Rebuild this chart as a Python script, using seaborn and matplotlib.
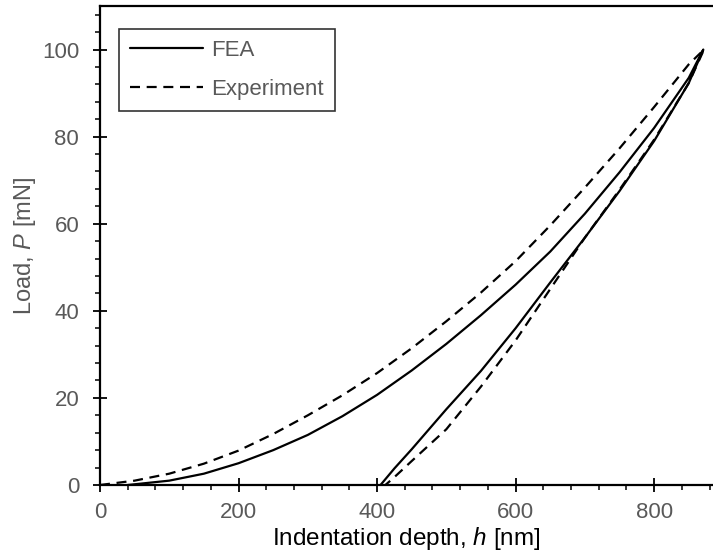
import matplotlib
matplotlib.use("Agg")
import matplotlib.pyplot as plt
import seaborn as sns
import pandas as pd
from matplotlib.ticker import MultipleLocator

# ---- data ----
fea_load_h = [40, 100, 150, 200, 250, 300, 350, 400, 450, 500, 550, 600, 650, 700, 750, 800, 850, 871]
fea_load_p = [0, 1.0, 2.6, 5.0, 8.0, 11.5, 15.8, 20.7, 26.3, 32.4, 39.0, 46.0, 53.6, 62.3, 71.8, 82.0, 93.5, 100]
fea_unload_h = [871, 850, 800, 750, 700, 650, 600, 550, 500, 450, 425, 405]
fea_unload_p = [100, 92.3, 79.0, 67.5, 56.8, 46.5, 36.0, 26.2, 17.4, 8.2, 3.8, 0]

exp_load_h = [0, 50, 100, 150, 200, 250, 300, 350, 400, 450, 500, 550, 600, 650, 700, 750, 800, 850, 872]
exp_load_p = [0, 1.0, 2.6, 4.9, 7.9, 11.7, 16.0, 20.6, 25.7, 31.4, 37.6, 44.2, 51.4, 59.6, 68.3, 77.3, 86.8, 96.6, 100]
exp_unload_h = [872, 850, 800, 750, 700, 650, 600, 550, 500, 450, 425, 412]
exp_unload_p = [100, 92.3, 79.3, 67.8, 56.8, 45.0, 33.2, 22.6, 12.8, 5.5, 1.8, 0]

x_ticks = [0, 200, 400, 600, 800]
y_ticks = [0, 20, 40, 60, 80, 100]

sns.set_style("ticks")
plt.rcParams["font.family"] = ["Liberation Sans", "DejaVu Sans"]
plt.rcParams["mathtext.fontset"] = "custom"
plt.rcParams["mathtext.rm"] = "Liberation Sans"
plt.rcParams["mathtext.it"] = "Liberation Sans:italic"

fea = pd.DataFrame({"h": fea_load_h + fea_unload_h, "P": fea_load_p + fea_unload_p})
exp = pd.DataFrame({"h": exp_load_h + exp_unload_h, "P": exp_load_p + exp_unload_p})

fig = plt.figure(figsize=(7.13, 5.60), dpi=100)
ax = fig.add_axes([100/713, 1-485/560, 613/713, 479/560])

sns.lineplot(data=fea, x="h", y="P", sort=False, estimator=None, color="black",
             linewidth=1.6, ax=ax, label="FEA")
sns.lineplot(data=exp, x="h", y="P", sort=False, estimator=None, color="black",
             linewidth=1.6, linestyle=(0, (4.5, 3)), ax=ax, label="Experiment")

ax.set_xlim(0, 885)
ax.set_ylim(0, 110)
ax.set_xticks(x_ticks)
ax.set_yticks(y_ticks)
ax.xaxis.set_minor_locator(MultipleLocator(40))
ax.yaxis.set_minor_locator(MultipleLocator(4))

for s in ["left", "bottom", "top"]:
    ax.spines[s].set_linewidth(1.6)
    ax.spines[s].set_color("black")
ax.spines["right"].set_visible(False)

ax.tick_params(which="major", direction="inout", length=10, width=1.3, colors="black",
               labelcolor="#595959", labelsize=16)
ax.tick_params(which="minor", direction="out", length=3.8, width=1.1, colors="black")
ax.tick_params(axis="x", which="major", pad=7)
ax.tick_params(axis="y", which="major", pad=10)
ax.tick_params(top=False, right=False, which="both")

ax.set_xlabel("Indentation depth, $\\it{h}$ [nm]", fontsize=17.5, color="black", labelpad=2)
ax.set_ylabel("Load, $\\it{P}$ [mN]", fontsize=17, color="#595959", labelpad=3)

leg = ax.legend(loc="upper left", bbox_to_anchor=(0.031, 0.952), borderaxespad=0,
                fontsize=16, frameon=True, fancybox=False, handlelength=3.3,
                handletextpad=0.36, labelspacing=0.8, borderpad=0.5)
leg.get_frame().set_edgecolor("black")
leg.get_frame().set_linewidth(1.2)
for t in leg.get_texts():
    t.set_color("#595959")

fig.savefig("out.png", dpi=100)
